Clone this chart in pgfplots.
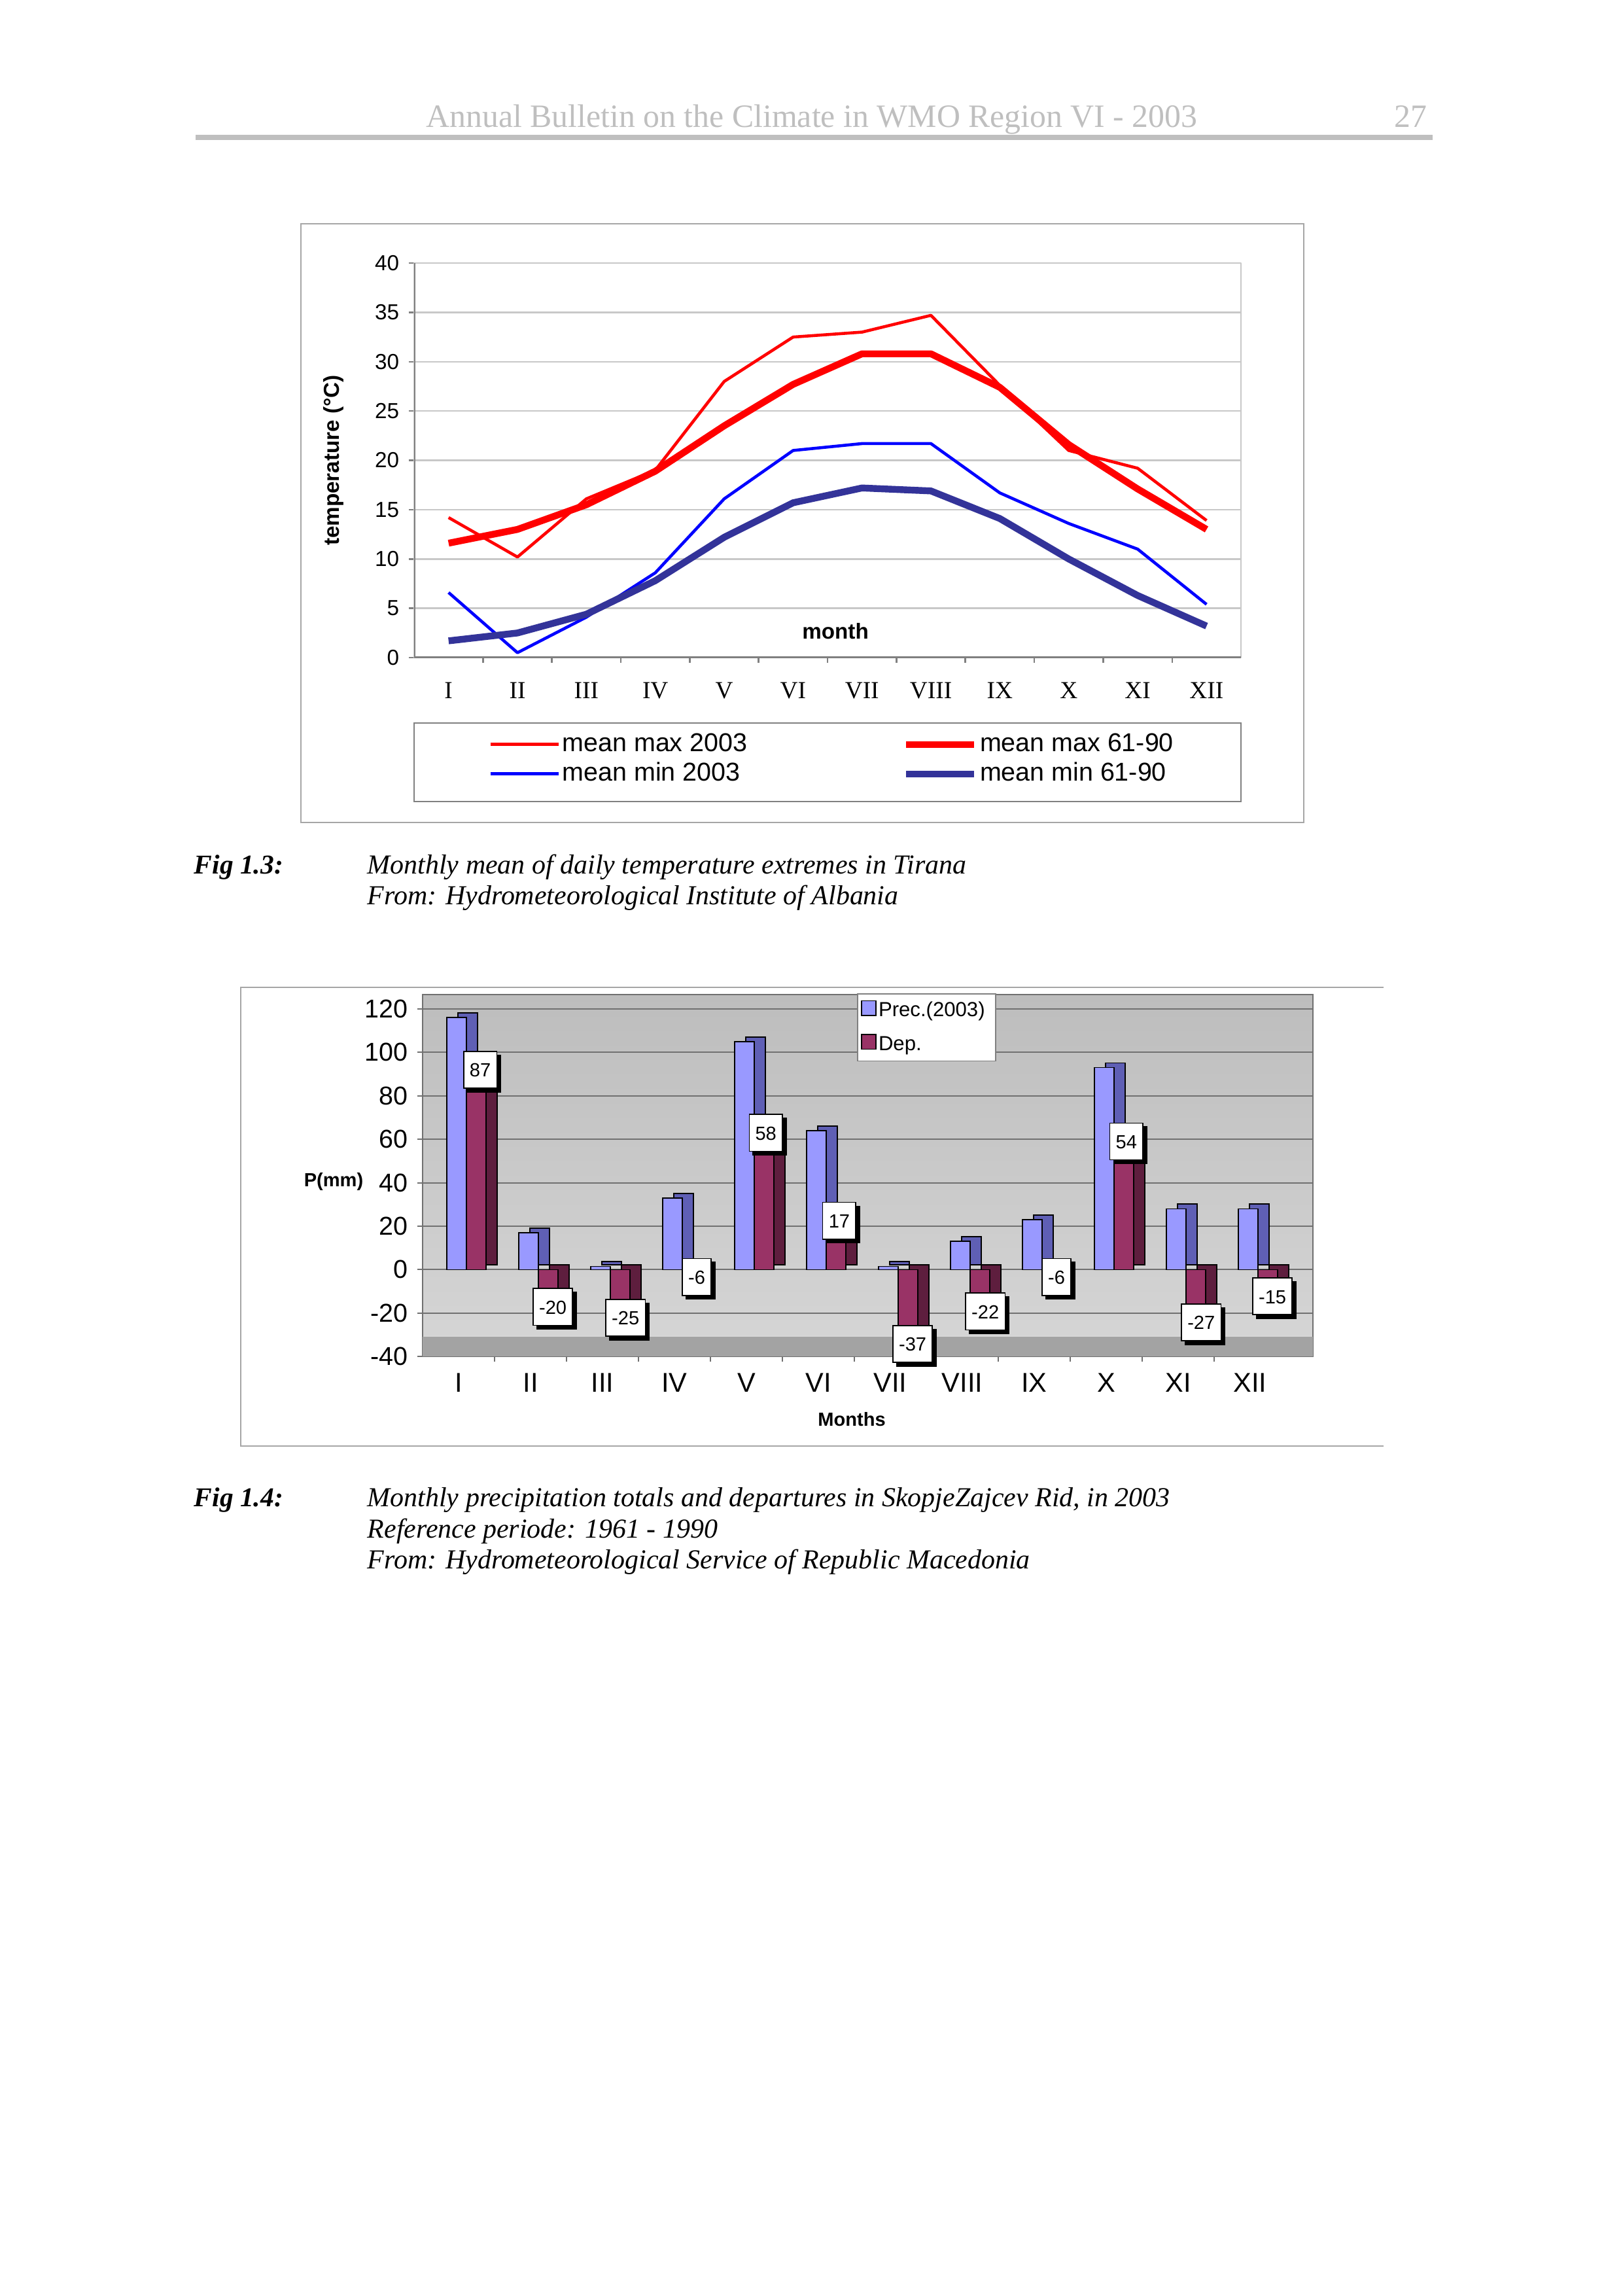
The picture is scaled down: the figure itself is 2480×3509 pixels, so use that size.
\documentclass[border=0pt]{standalone}
\usepackage{fontspec}
\setmainfont{Liberation Serif}
\setsansfont{Liberation Sans}
\usepackage{pgfplots}
\pgfplotsset{compat=1.18}
\usepackage{pgfplotstable}
\usetikzlibrary{shadows}

\definecolor{hdrgray}{HTML}{BFBFBF}
\definecolor{framec}{HTML}{A6A6A6}
\definecolor{gridc}{HTML}{C8C8C8}
\definecolor{axc}{HTML}{808080}
\definecolor{navy}{HTML}{333399}
\definecolor{prec}{HTML}{9999FF}
\definecolor{precside}{HTML}{5F5FB5}
\definecolor{dep}{HTML}{993366}
\definecolor{depside}{HTML}{5E1E3E}
\definecolor{wallt}{HTML}{BDBDBD}
\definecolor{wallb}{HTML}{D6D6D6}
\definecolor{floorc}{HTML}{A3A3A3}
\definecolor{grid2}{HTML}{707070}

% Tirana, monthly means (deg C)
\pgfplotstableread{
m max03 max6190 min03 min6190
1  14.2 11.6  6.6  1.7
2  10.2 13.0  0.5  2.5
3  16.1 15.5  4.1  4.4
4  19.0 18.9  8.6  7.8
5  28.0 23.5 16.1 12.2
6  32.5 27.7 21.0 15.7
7  33.0 30.8 21.7 17.2
8  34.7 30.8 21.7 16.9
9  27.6 27.4 16.7 14.1
10 21.0 21.6 13.6 10.0
11 19.2 17.1 11.0  6.3
12 13.9 13.0  5.4  3.2
}\temps

% Skopje-Zajcev Rid 2003, mm
\pgfplotstableread{
m prec dep
1  116  87
2  17  -20
3  1.5 -25
4  33   -6
5  105  58
6  64   17
7  1.5 -37
8  13  -22
9  23   -6
10 93   54
11 28  -27
12 28  -15
}\precip

% where the departure labels sit
\pgfplotstableread{
x y lab
1.3  92    87
2.31 -17.2 -20
3.32 -22.2 -25
4.31 -3.4  -6
5.27 63    58
6.29 22.5  17
7.31 -34.2 -37
8.32 -19.3 -22
9.31 -3.4  -6
10.28 59   54
11.32 -24.3 -27
12.31 -12.3 -15
}\deplabels

\tikzset{
  vlab/.style={font=\sffamily\fontsize{7}{8}\selectfont, fill=white, draw=black,
    line width=0.4bp, inner xsep=2.2bp, inner ysep=0pt, minimum height=13.5bp,
    text height=5.2bp, text depth=0pt, anchor=center,
    drop shadow={shadow xshift=1.4bp, shadow yshift=-1.4bp, fill=black, opacity=1}},
}

\begin{document}
\begin{tikzpicture}[x=0.24bp,y=0.24bp]
\path (0,0) rectangle (2480,-3509);

% running head
\node[anchor=base, text=hdrgray, font=\fontsize{12}{14}\selectfont, inner sep=0pt]
  at (1241,-194) {Annual Bulletin on the Climate in WMO Region VI - 2003};
\node[anchor=base east, text=hdrgray, font=\fontsize{12}{14}\selectfont, inner sep=0pt]
  at (2182,-194) {27};
\fill[hdrgray] (299,-206) rectangle (2190,-214);

% ---------- Fig 1.3 ----------
\draw[framec, line width=0.7bp] (460,-342) rectangle (1993,-1257);
\draw[axc, line width=0.6bp] (633,-1105) rectangle (1897,-1225);

\begin{axis}[
  at={(151.92bp,-241.2bp)}, anchor=south west, scale only axis,
  width=303.36bp, height=144.72bp,
  xmin=0.5, xmax=12.5, ymin=0, ymax=40,
  axis lines=box, axis line style={draw=gridc, line width=0.6bp},
  tick pos=left, tick align=outside, major tick length=2bp,
  tick style={draw=axc, line width=0.6bp},
  xtick={1.5,2.5,...,11.5}, xticklabels={},
  extra x ticks={1,...,12},
  extra x tick labels={I,II,III,IV,V,VI,VII,VIII,IX,X,XI,XII},
  extra x tick style={major tick length=0pt},
  xticklabel style={font=\rmfamily\fontsize{9}{10}\selectfont, anchor=center, yshift=-12bp},
  ytick={0,5,...,40},
  yticklabel style={font=\sffamily\fontsize{8}{9}\selectfont},
  /pgf/number format/assume math mode=true,
  ymajorgrids, grid style={draw=gridc, line width=0.6bp},
  ylabel={temperature (°C)},
  every axis y label/.style={at={(axis description cs:-0.0973,0.5)}, anchor=center, rotate=90,
    font=\sffamily\bfseries\fontsize{8}{9}\selectfont},
  xlabel={month},
  every axis x label/.style={at={(axis description cs:0.5095,0.0677)}, anchor=center,
    font=\sffamily\bfseries\fontsize{8}{9}\selectfont},
  legend columns=2,
  legend image code/.code={\draw[mark=none,#1] (0bp,0bp) -- (25bp,0bp);},
  legend style={at={(axis description cs:0.0898,-0.2574)}, anchor=west, draw=none, fill=none,
    inner sep=0pt, row sep=1.8bp, font=\sffamily\fontsize{9.5}{11}\selectfont,
    nodes={inner xsep=0.85bp, inner ysep=0pt, text height=7bp, text depth=2bp},
    cells={anchor=west}},
  line join=round,
]
\draw[axc, line width=0.8bp] (rel axis cs:0,1) -- (rel axis cs:0,0) -- (rel axis cs:1,0);
\addplot[red, line width=1.1bp, mark=none] table[x=m, y=max03] {\temps};
\addlegendentry{\makebox[124bp][l]{mean max 2003}}
\addplot[red, line width=2.5bp, mark=none] table[x=m, y=max6190] {\temps};
\addlegendentry{mean max 61-90}
\addplot[blue, line width=1.1bp, mark=none] table[x=m, y=min03] {\temps};
\addlegendentry{\makebox[124bp][l]{mean min 2003}}
\addplot[navy, line width=2.5bp, mark=none] table[x=m, y=min6190] {\temps};
\addlegendentry{mean min 61-90}
\end{axis}

\node[anchor=base west, font=\bfseries\itshape\fontsize{10}{11.5}\selectfont, inner sep=0pt]
  at (296,-1335) {Fig 1.3:};
\node[anchor=base west, font=\itshape\fontsize{10.1}{11.5}\selectfont, inner sep=0pt]
  at (561,-1335) {Monthly mean of daily temperature extremes in Tirana};
\node[anchor=base west, font=\itshape\fontsize{10.1}{11.5}\selectfont, inner sep=0pt]
  at (561,-1382) {From: Hydrometeorological Institute of Albania};

% ---------- Fig 1.4 ----------
\draw[framec, line width=0.7bp] (2115,-1509) -- (368,-1509) -- (368,-2210) -- (2115,-2210);

\begin{axis}[
  at={(155.04bp,-497.52bp)}, anchor=south west, scale only axis,
  width=326.64bp, height=132.72bp,
  xmin=0.5, xmax=12.873, ymin=-40, ymax=126.6,
  axis background/.style={shade, top color=wallt, bottom color=wallb},
  axis lines=box, axis line style={draw=grid2, line width=0.5bp},
  tick pos=left, tick align=outside, major tick length=2bp,
  tick style={draw=grid2, line width=0.5bp},
  xtick={1.5,2.5,...,11.5}, xticklabels={},
  extra x ticks={1,...,12},
  extra x tick labels={I,II,III,IV,V,VI,VII,VIII,IX,X,XI,XII},
  extra x tick style={major tick length=0pt},
  xticklabel style={font=\sffamily\fontsize{10}{11}\selectfont, anchor=center, yshift=-9.6bp},
  ytick={-40,-20,...,120},
  yticklabel style={font=\sffamily\fontsize{9.5}{11}\selectfont},
  /pgf/number format/assume math mode=true,
  ymajorgrids, grid style={draw=grid2, line width=0.5bp},
  ylabel={P(mm)},
  every axis y label/.style={at={(axis description cs:-0.0999,0.4828)}, anchor=center,
    font=\sffamily\bfseries\fontsize{7}{8}\selectfont},
  xlabel={Months},
  every axis x label/.style={at={(axis description cs:0.482,-0.1736)}, anchor=center,
    font=\sffamily\bfseries\fontsize{7}{8}\selectfont},
  legend style={at={(axis description cs:0.4879,1.0036)}, anchor=north west, draw=axc, fill=white,
    line width=0.4bp, inner xsep=1.2bp, inner ysep=2.3bp, row sep=4.8bp,
    font=\sffamily\fontsize{7.5}{9}\selectfont,
    nodes={inner xsep=0.7bp, inner ysep=0pt, text height=5.6bp, text depth=1.6bp},
    cells={anchor=west}},
  sq/.style={legend image code/.code={\draw[##1,/tikz/.cd,draw=black,line width=0.4bp] (0bp,-1.6bp) rectangle (5.4bp,3.8bp);}},
]
\addplot[fill=floorc, draw=none, forget plot] coordinates {(0.5,-40) (12.873,-40) (12.873,-31) (0.5,-31)};
\addplot[ybar, bar width=7.2bp, bar shift=-0.8bp, fill=precside, draw=black, line width=0.4bp,
  xshift=4.1bp, yshift=1.7bp, forget plot] table[x=m, y=prec] {\precip};
\addplot[ybar, sq, bar width=7.2bp, bar shift=-0.8bp, fill=prec, draw=black, line width=0.4bp]
  table[x=m, y=prec] {\precip};
\addlegendentry{\makebox[41bp][l]{Prec.(2003)}}
\addplot[ybar, bar width=7.2bp, bar shift=6.4bp, fill=depside, draw=black, line width=0.4bp,
  xshift=4.1bp, yshift=1.7bp, forget plot] table[x=m, y=dep] {\precip};
\addplot[ybar, sq, bar width=7.2bp, bar shift=6.4bp, fill=dep, draw=black, line width=0.4bp]
  table[x=m, y=dep] {\precip};
\addlegendentry{\makebox[41bp][l]{Dep.}}
\addplot[only marks, mark=none, forget plot, point meta=explicit symbolic,
  nodes near coords, every node near coord/.style={vlab}]
  table[x=x, y=y, meta=lab] {\deplabels};
\end{axis}

\node[anchor=base west, font=\bfseries\itshape\fontsize{10}{11.5}\selectfont, inner sep=0pt]
  at (296,-2302) {Fig 1.4:};
\node[anchor=base west, font=\itshape\fontsize{10.1}{11.5}\selectfont, inner sep=0pt]
  at (561,-2302) {Monthly precipitation totals and departures in SkopjeZajcev Rid, in 2003};
\node[anchor=base west, font=\itshape\fontsize{10.1}{11.5}\selectfont, inner sep=0pt]
  at (561,-2350) {Reference periode: 1961 - 1990};
\node[anchor=base west, font=\itshape\fontsize{10.1}{11.5}\selectfont, inner sep=0pt]
  at (561,-2397) {From: Hydrometeorological Service of Republic Macedonia};
\end{tikzpicture}
\end{document}
